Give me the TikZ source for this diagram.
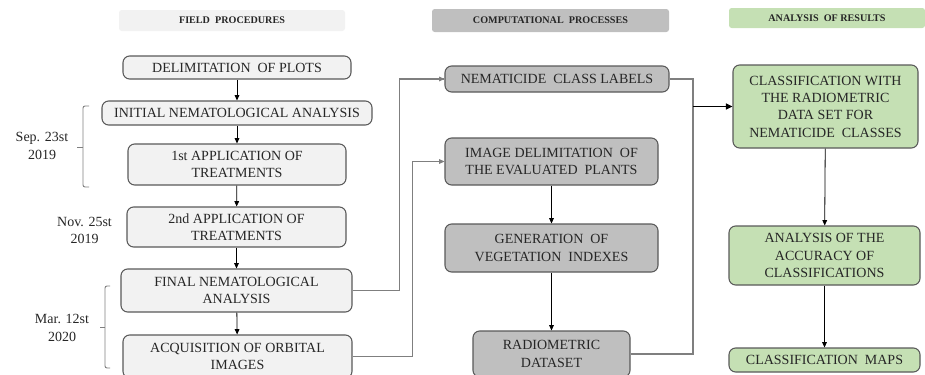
\documentclass[tikz,border=0pt]{standalone}
\usepackage{fontspec}
\setmainfont{Liberation Serif}
\usetikzlibrary{arrows.meta}
\definecolor{fieldfill}{HTML}{F2F2F2}
\definecolor{compfill}{HTML}{BFBFBF}
\definecolor{resfill}{HTML}{C5E0B4}
\definecolor{edgegray}{HTML}{595959}
\definecolor{linkgray}{HTML}{7F7F7F}
\definecolor{inkgray}{HTML}{262626}
\begin{document}
\begin{tikzpicture}[x=0.75pt,y=-0.75pt,
	box/.style={draw=edgegray,line width=0.8pt,rounded corners=5pt,inner sep=0pt,align=center,text=inkgray,font=\fontsize{10.5}{13}\selectfont},
	fieldbox/.style={box,fill=fieldfill},
	compbox/.style={box,fill=compfill},
	resbox/.style={box,fill=resfill},
	headbox/.style={rounded corners=2pt,inner sep=0pt,text=inkgray,font=\fontsize{7.6}{8}\selectfont\bfseries},
	down/.style={-{Triangle[length=4pt,width=3.5pt]},line width=0.6pt},
	link/.style={draw=linkgray,line width=0.8pt},
	feed/.style={-{Triangle[length=5pt,width=4.5pt]},line width=1.1pt},
	brc/.style={draw=linkgray,line width=0.7pt,rounded corners=1.5pt},
	date/.style={align=center,inner sep=0pt,text=inkgray,font=\fontsize{10.5}{13}\selectfont}]
	\useasboundingbox (0,0) rectangle (925,375);
	\node [headbox,fill=fieldfill,minimum width=169.5pt,minimum height=15.75pt] (hfield) at (232,20.5) {FIELD\ \ PROCEDURES};
	\node [headbox,fill=compfill,minimum width=177.75pt,minimum height=17.25pt] (hcomp) at (550.5,20.5) {COMPUTATIONAL\ \ PROCESSES};
	\node [headbox,fill=resfill,minimum width=147pt,minimum height=15pt] (hres) at (827,18) {ANALYSIS\ \ OF RESULTS};
	\node [fieldbox,minimum width=171pt,minimum height=17.25pt] (plots) at (237,67.5) {DELIMITATION\ \ OF PLOTS};
	\node [fieldbox,minimum width=202.5pt,minimum height=18pt] (initial) at (237,113) {INITIAL NEMATOLOGICAL ANALYSIS};
	\node [fieldbox,minimum width=163.5pt,minimum height=30.75pt] (first) at (237,164.5) {1st APPLICATION OF\\TREATMENTS};
	\node [fieldbox,minimum width=164.25pt,minimum height=30pt] (second) at (236.5,227) {2nd APPLICATION OF\\TREATMENTS};
	\node [fieldbox,minimum width=173.25pt,minimum height=32.25pt] (final) at (236.5,290.5) {FINAL NEMATOLOGICAL\\ANALYSIS};
	\node [fieldbox,minimum width=171.75pt,minimum height=32.25pt] (orbital) at (237.5,356.5) {ACQUISITION OF ORBITAL\\IMAGES};
	\node [compbox,minimum width=168pt,minimum height=19.5pt] (labels) at (557,79) {NEMATICIDE\ \ CLASS LABELS};
	\node [compbox,minimum width=159.75pt,minimum height=35.25pt] (plants) at (551.5,161.5) {IMAGE DELIMITATION\ \ OF\\THE EVALUATED\ \ PLANTS};
	\node [compbox,minimum width=159.75pt,minimum height=36pt] (indexes) at (551.5,248) {GENERATION\ \ OF\\VEGETATION\ \ INDEXES};
	\node [compbox,minimum width=117.75pt,minimum height=34.5pt] (radio) at (551.5,354) {RADIOMETRIC\\DATASET};
	\node [resbox,minimum width=138.75pt,minimum height=62.25pt] (classif) at (825.5,106.5) {CLASSIFICATION WITH\\THE RADIOMETRIC\\DATA SET FOR\\NEMATICIDE\ \ CLASSES};
	\node [resbox,minimum width=143.25pt,minimum height=44.25pt] (accuracy) at (824.5,255.5) {ANALYSIS OF THE\\ACCURACY OF\\CLASSIFICATIONS};
	\node [resbox,minimum width=143.25pt,minimum height=18pt] (maps) at (824.5,360) {CLASSIFICATION\ \ MAPS};
	\node [date] (sep) at (42,146) {Sep. 23st\\2019};
	\node [date] (nov) at (84.5,230.5) {Nov. 25st\\2019};
	\node [date] (mar) at (62,328) {Mar. 12st\\2020};
	\draw [down] (plots) -- (initial);
	\draw [down] (initial) -- (first);
	\draw [down] (first) -- (second);
	\draw [down] (second) -- (final);
	\draw [down] (final) -- (orbital);
	\draw [down] (plants) -- (indexes);
	\draw [down] (indexes) -- (radio);
	\draw [down] (classif) -- (accuracy);
	\draw [down] (accuracy) -- (maps);
	\draw [link] (final.east) -- ++(47,0) |- (labels.west);
	\draw [down,draw=linkgray,fill=black] ([xshift=-6pt]labels.west) -- (labels.west);
	\draw [link] (orbital.east) -- ++(60,0) |- (plants.west);
	\draw [down,draw=linkgray,fill=black] ([xshift=-6pt]plants.west) -- (plants.west);
	\coordinate (bus) at (693,79);
	\draw [link] (labels.east) -- (bus) |- (radio.east);
	\draw [feed] (classif.west -| bus) -- (classif.west);
	\draw [brc] (89,106) -| (83,187) -- (89,187);
	\draw [brc] (83,147) -- (77,147);
	\draw [brc] (110,286) -| (105,368) -- (110,368);
	\draw [brc] (105,327) -- (100,327);
\end{tikzpicture}
\end{document}
